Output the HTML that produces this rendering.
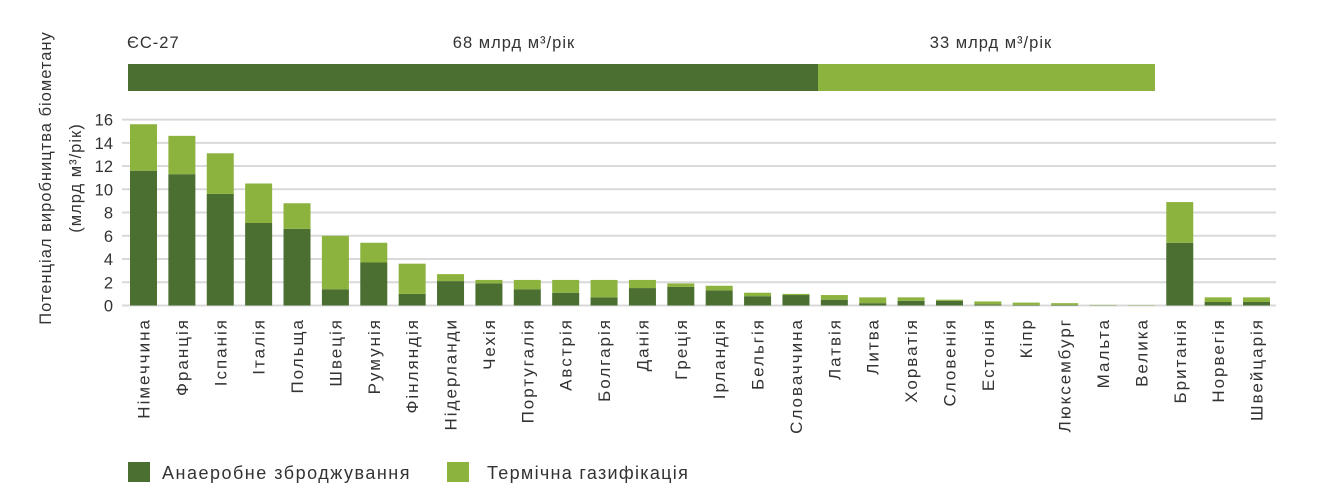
<!DOCTYPE html>
<html><head><meta charset="utf-8"><style>
body{margin:0;background:#fff;font-family:"Liberation Sans","DejaVu Sans",sans-serif;}
svg text{font-family:"Liberation Sans","DejaVu Sans",sans-serif;fill:#333;}
</style></head><body>
<svg width="1321" height="498" viewBox="0 0 1321 498" xmlns="http://www.w3.org/2000/svg">
<g id="header">
<text x="127" y="48" font-size="16.5" letter-spacing="1">ЄС-27</text>
<text x="514" y="48" font-size="16.5" letter-spacing="1" text-anchor="middle">68 млрд м³/рік</text>
<text x="991" y="48" font-size="16.5" letter-spacing="1" text-anchor="middle">33 млрд м³/рік</text>
<rect x="128" y="64" width="690" height="27" fill="#4a6f31"/>
<rect x="818" y="64" width="337" height="27" fill="#8db33f"/>
</g>
<g id="grid"></g><g id="bars"></g><g id="labels"></g>
<text transform="translate(51,178) rotate(-90)" font-size="16.5" letter-spacing="1" text-anchor="middle">Потенціал виробництва біометану</text>
<text transform="translate(81,178) rotate(-90)" font-size="16.5" letter-spacing="1" text-anchor="middle">(млрд м³/рік)</text>
<rect x="128" y="462" width="22" height="20" fill="#4a6f31"/>
<text x="162" y="479" font-size="18" letter-spacing="1.5">Анаеробне зброджування</text>
<rect x="447" y="462" width="22" height="20" fill="#8db33f"/>
<text x="487" y="479" font-size="18" letter-spacing="1.3">Термічна газифікація</text>
</svg>
<script>
const categories=["Німеччина","Франція","Іспанія","Італія","Польща","Швеція","Румунія","Фінляндія","Нідерланди","Чехія","Португалія","Австрія","Болгарія","Данія","Греція","Ірландія","Бельгія","Словаччина","Латвія","Литва","Хорватія","Словенія","Естонія","Кіпр","Люксембург","Мальта","Велика","Британія","Норвегія","Швейцарія"];
const anaerobic=[11.6,11.3,9.6,7.1,6.6,1.4,3.7,1.0,2.1,1.9,1.4,1.1,0.7,1.5,1.6,1.3,0.8,0.9,0.5,0.2,0.4,0.4,0.1,0.05,0.05,0.02,0,5.4,0.3,0.3];
const gasification=[4.0,3.3,3.5,3.4,2.2,4.6,1.7,2.6,0.6,0.3,0.8,1.1,1.5,0.7,0.3,0.4,0.3,0.1,0.4,0.5,0.3,0.1,0.25,0.2,0.15,0.03,0.03,3.5,0.4,0.4];
const yTicks=[0,2,4,6,8,10,12,14,16];
const NS="http://www.w3.org/2000/svg";
const y0=305.5,yk=11.62;
function yS(v){return y0-v*yk;}
function xS(i){return 143.5+i*38.38;}
const bw=27;
const grid=document.getElementById('grid'),bars=document.getElementById('bars'),labels=document.getElementById('labels');
function mk(t,a,p){const e=document.createElementNS(NS,t);for(const k in a)e.setAttribute(k,a[k]);p.appendChild(e);return e;}
yTicks.forEach(v=>{
 const l=mk('line',{x1:122,x2:1276,y1:yS(v),y2:yS(v),stroke:'#d9d9d9','stroke-width':2},grid);
 
 
 const t=mk('text',{x:113,y:yS(v)+6,'font-size':16.5,'text-anchor':'end'},grid);
 t.textContent=v;
 
 
});
categories.forEach((c,i)=>{
 const a=anaerobic[i],g=gasification[i],x=xS(i)-bw/2;
 const r1=mk('rect',{x:x,y:yS(a),width:bw,height:a*yk,fill:'#4a6f31'},bars);
 
 
 const r2=mk('rect',{x:x,y:yS(a+g),width:bw,height:g*yk,fill:'#8db33f'},bars);
 
 
 const t=mk('text',{transform:`translate(${xS(i)+6},318) rotate(-90)`,'font-size':17,'letter-spacing':2,'text-anchor':'end'},labels);
 t.textContent=c;
 
 
});
</script>
</body></html>
